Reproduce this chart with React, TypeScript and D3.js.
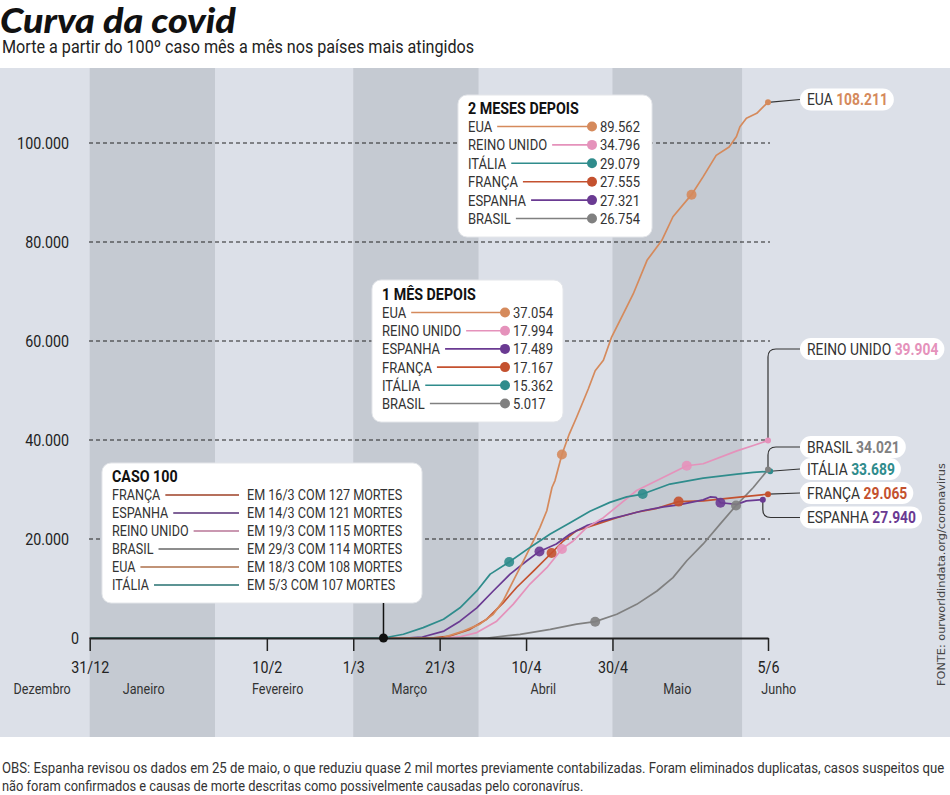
import { useEffect, useRef } from "react";
import * as d3 from "d3";

// days counted from 31/12/2019
const tickDays = [0, 41, 61, 81, 101, 121, 157];
const tickLabels = ["31/12", "10/2", "1/3", "21/3", "10/4", "30/4", "5/6"];
const yTicks = [0, 20000, 40000, 60000, 80000, 100000];

const monthNames = ["Dezembro", "Janeiro", "Fevereiro", "Março", "Abril", "Maio", "Junho"];
const monthLabelDays = [-11, 12.5, 43.5, 74, 105, 136, 159.5];
const shadedMonths: [number, number][] = [[0, 29], [61, 90], [121, 151]];

const countries = ["EUA", "REINO UNIDO", "ITÁLIA", "FRANÇA", "ESPANHA", "BRASIL"];
const countryColors = ["#d58a5c", "#e592bb", "#2f8c8c", "#c4512f", "#6a3a92", "#808080"];

// [day, deaths]
const eua: [number, number][] = [
  [0, 0], [78, 0], [81.8, 100], [86.5, 1400], [90.3, 2800], [93.4, 4800], [95.7, 7500],
  [98, 11500], [100.4, 15600], [102.7, 19600], [104.2, 22300], [105.8, 25700], [107, 30400],
  [107.7, 31800], [109.3, 37054], [111, 41200], [112.7, 44600], [115.4, 50300], [117, 54000],
  [118.9, 56100], [120.8, 60800], [123.5, 65500], [125.8, 69500], [129, 76300], [132.4, 80300],
  [135, 85100], [139.3, 89562], [142, 93200], [145, 97500], [148, 99200], [149.7, 101300],
  [150.5, 103300], [152, 105000], [154.4, 106000], [156, 107400], [157, 108211],
];
const reinoUnido: [number, number][] = [
  [0, 0], [82, 0], [86, 300], [89.6, 1100], [94.2, 3400], [98, 6800], [101.9, 10900],
  [105.8, 14200], [109.3, 17994], [111.9, 19600], [115, 22300], [118.9, 24300], [122.8, 27100],
  [126.6, 29800], [131.3, 31800], [138.2, 34796], [142, 35200], [149.8, 37800], [153.6, 38900],
  [157, 39904],
];
const italia: [number, number][] = [
  [0, 0], [68, 0], [72.6, 750], [77.2, 2100], [81.9, 3800], [85.7, 6100], [89.6, 9500],
  [92.7, 12900], [97.1, 15362], [101.9, 18300], [106.6, 21000], [111.2, 23300], [115.8, 25600],
  [120.4, 27400], [124.3, 28500], [128, 29079], [134.3, 31100], [142, 32300], [149.8, 33100],
  [153.6, 33450], [157.5, 33689],
];
const franca: [number, number][] = [
  [0, 0], [79, 0], [83.4, 400], [88, 1750], [91.9, 3800], [95.7, 7100], [98.8, 10200],
  [102.7, 13500], [106.9, 17167], [109.6, 19600], [112.7, 21700], [117.4, 23000], [122, 24300],
  [126.6, 25400], [131.3, 26200], [136.3, 27555], [142, 27700], [149.8, 28400], [157, 29065],
];
const espanha: [number, number][] = [
  [0, 0], [73, 0], [77, 200], [82, 1400], [85.7, 3400], [89.6, 6100], [93.4, 9500],
  [97.3, 12900], [101.2, 15600], [104.1, 17489], [108, 19000], [111.2, 21000], [115, 22700],
  [118.9, 23700], [123.5, 24700], [128, 25700], [132.8, 26500], [136.3, 26900], [142, 27900],
  [143.6, 28500], [145, 28400], [146, 27321], [149.8, 27000], [152, 27700], [155.8, 27940],
];
const brasil: [number, number][] = [
  [0, 0], [92, 0], [99.6, 750], [106.6, 1750], [112.7, 2800], [117, 3300], [122, 4800],
  [126.6, 6800], [131.3, 9500], [135, 12200], [138.2, 15600], [142, 19000], [145.9, 23000],
  [149.6, 26754], [153.6, 30400], [157, 34021],
];
const seriesByCountry = [eua, reinoUnido, italia, franca, espanha, brasil];

const oneMonthDays = [109.3, 109.3, 97.1, 106.9, 104.1, 117];
const twoMonthDays = [139.3, 138.2, 128, 136.3, 146, 149.6];

const oneMonthOrder = ["EUA", "REINO UNIDO", "ESPANHA", "FRANÇA", "ITÁLIA", "BRASIL"];
const oneMonthValues = [37054, 17994, 17489, 17167, 15362, 5017];
const twoMonthOrder = ["EUA", "REINO UNIDO", "ITÁLIA", "FRANÇA", "ESPANHA", "BRASIL"];
const twoMonthValues = [89562, 34796, 29079, 27555, 27321, 26754];
const case100Order = ["FRANÇA", "ESPANHA", "REINO UNIDO", "BRASIL", "EUA", "ITÁLIA"];
const case100Text = [
  "EM 16/3 COM 127 MORTES", "EM 14/3 COM 121 MORTES", "EM 19/3 COM 115 MORTES",
  "EM 29/3 COM 114 MORTES", "EM 18/3 COM 108 MORTES", "EM 5/3 COM 107 MORTES",
];
const case100Day = 68;
const finalValues = [108211, 39904, 33689, 29065, 27940, 34021];

const title = "Curva da covid";
const subtitle = "Morte a partir do 100º caso mês a mês nos países mais atingidos";
const source = "FONTE: ourworldindata.org/coronavirus";
const note1 = "OBS: Espanha revisou os dados em 25 de maio, o que reduziu quase 2 mil mortes previamente contabilizadas. Foram eliminados duplicatas, casos suspeitos que";
const note2 = "não foram confirmados e causas de morte descritas como possivelmente causadas pelo coronavírus.";

const FONT = "Roboto, 'DejaVu Sans', sans-serif";
const SX = 0.84; // horizontal squeeze to imitate the condensed face
const fmt = d3.formatLocale({ decimal: ",", thousands: ".", grouping: [3], currency: ["R$", ""] }).format(",d");

type Sel = d3.Selection<any, unknown, null, undefined>;

// condensed text: x/y is the anchor point, vertically centred
function ctext(parent: Sel, x: number, y: number, str: string, size: number, fill = "#333", weight: any = "normal", anchor = "start") {
  return parent.append("text")
    .attr("transform", `translate(${x},${y}) scale(${SX},1)`)
    .attr("dy", "0.35em").attr("text-anchor", anchor)
    .attr("font-family", FONT).attr("font-size", size).attr("font-weight", weight)
    .attr("fill", fill).text(str);
}
const rawWidth = (t: Sel) => (t.node() as SVGTextElement).getComputedTextLength();
const widthOf = (t: Sel) => rawWidth(t) * SX;
// squeeze/stretch a left-anchored text to a given width
function fitText(parent: Sel, x: number, y: number, str: string, size: number, target: number, fill = "#333") {
  const t = ctext(parent, x, y, str, size, fill);
  t.attr("transform", `translate(${x},${y}) scale(${target / rawWidth(t)},1)`);
  return t;
}

export default function App() {
  const svgRef = useRef<SVGSVGElement>(null);

  useEffect(() => {
    if (!svgRef.current) return;
    document.body.style.margin = "0";
    const svg = d3.select(svgRef.current) as unknown as Sel;
    svg.selectAll("*").remove();

    const x = d3.scaleLinear().domain([0, 157]).range([89.7, 768]);
    const y = d3.scaleLinear().domain([0, 100000]).range([638, 143]);
    const colorOf = (c: string) => countryColors[countries.indexOf(c)];
    const valueAt = (s: [number, number][], day: number) => {
      const i = d3.bisector((d: [number, number]) => d[0]).left(s, day);
      if (i <= 0) return s[0][1];
      if (i >= s.length) return s[s.length - 1][1];
      const [d0, v0] = s[i - 1];
      const [d1, v1] = s[i];
      return v0 + ((v1 - v0) * (day - d0)) / (d1 - d0);
    };

    // Title
    const tt = svg.append("text").attr("x", 0).attr("y", 0)
      .attr("font-family", "Lato, 'DejaVu Sans', sans-serif").attr("font-weight", 900)
      .attr("font-style", "italic").attr("font-size", 35).attr("fill", "#111").text(title);
    const tw = rawWidth(tt);
    tt.attr("transform", `translate(0,33) scale(${236 / tw},1)`);
    fitText(svg, 2, 47, subtitle, 18, 472, "#222");

    // Background and month bands
    svg.append("rect").attr("x", 0).attr("y", 68).attr("width", 950).attr("height", 669).attr("fill", "#dce0e8");
    svg.append("g").selectAll("rect").data(shadedMonths).join("rect")
      .attr("x", (d) => x(d[0])).attr("width", (d) => x(d[1]) - x(d[0]))
      .attr("y", 68).attr("height", 669).attr("fill", "#c5cad2");

    monthNames.forEach((m, i) => ctext(svg, x(monthLabelDays[i]), 689, m, 15, "#333", "normal", "middle"));

    // Grid
    svg.append("g").selectAll("line").data(yTicks.filter((t) => t > 0)).join("line")
      .attr("x1", 89).attr("x2", 770).attr("y1", (d) => y(d)).attr("y2", (d) => y(d))
      .attr("stroke", "#222").attr("stroke-width", 1).attr("stroke-dasharray", "4,3");
    yTicks.forEach((t) => ctext(svg, t === 0 ? 79 : 69, y(t), fmt(t), 17, "#222", "normal", "end"));

    // Series
    const line = d3.line<[number, number]>().x((d) => x(d[0])).y((d) => y(d[1]));
    const drawOrder = [5, 3, 4, 1, 0, 2];
    drawOrder.forEach((i) => {
      svg.append("path").datum(seriesByCountry[i]).attr("d", line)
        .attr("fill", "none").attr("stroke", countryColors[i]).attr("stroke-width", 1.7)
        .attr("stroke-linejoin", "round");
    });

    // X axis
    const xAxis = svg.append("g").attr("transform", `translate(0,${y(0)})`)
      .call(d3.axisBottom(x).tickValues(tickDays).tickFormat((_, i) => tickLabels[i]).tickSize(13).tickSizeOuter(0));
    xAxis.select(".domain").attr("stroke", "#222").attr("stroke-width", 2);
    xAxis.selectAll(".tick line").attr("stroke", "#222").attr("stroke-width", 1.5);
    xAxis.selectAll(".tick text").attr("y", 0).attr("transform", `translate(0,29) scale(${SX},1)`)
      .attr("dy", "0.35em").attr("font-family", FONT).attr("font-size", 17).attr("fill", "#222");

    // Milestone dots
    [oneMonthDays, twoMonthDays].forEach((days) => {
      svg.append("g").selectAll("circle").data(days).join("circle")
        .attr("cx", (d) => x(d)).attr("cy", (d, i) => y(valueAt(seriesByCountry[i], d)))
        .attr("r", 5).attr("fill", (_, i) => countryColors[i]).attr("fill-opacity", 0.9);
    });

    // End points + labels
    const labelY = [99.5, 349, 469, 493, 517.5, 447];
    const r = 8;
    seriesByCountry.forEach((s, i) => {
      const last = s[s.length - 1];
      const ex = x(last[0]);
      const ey = y(last[1]);
      const ly = labelY[i];
      let d: string;
      if (Math.abs(ey - ly) < 6) {
        d = `M${ex},${ey}L800,${ly}`;
      } else {
        const dir = ly < ey ? -1 : 1;
        d = `M${ex},${ey}V${ly - dir * r}Q${ex},${ly} ${ex + r},${ly}H800`;
      }
      svg.append("path").attr("d", d).attr("fill", "none").attr("stroke", "#333").attr("stroke-width", 1.2);
      svg.append("circle").attr("cx", ex).attr("cy", ey).attr("r", 3).attr("fill", countryColors[i]);

      const g = svg.append("g");
      const pill = g.append("rect").attr("x", 800).attr("y", ly - 11).attr("height", 22).attr("rx", 11)
        .attr("fill", "#fff");
      const t = ctext(g, 807, ly, "", 16.5);
      t.append("tspan").attr("fill", "#333").text(countries[i] + " ");
      t.append("tspan").attr("fill", countryColors[i]).attr("font-weight", "bold").text(fmt(finalValues[i]));
      pill.attr("width", Math.min(widthOf(t) + 13, 148));
    });

    // Boxes
    const box = (bx: number, by: number, bw: number, bh: number) =>
      svg.append("rect").attr("x", bx).attr("y", by).attr("width", bw).attr("height", bh)
        .attr("rx", 9).attr("fill", "#fff").attr("stroke", "#e4e6ea");

    const listBox = (bx: number, by: number, bw: number, bh: number, head: string, order: string[],
      values: number[], rowY0: number, step: number, dotX: number) => {
      box(bx, by, bw, bh);
      ctext(svg, bx + 10, rowY0 - step, head, 17, "#111", "bold");
      order.forEach((c, i) => {
        const cy = rowY0 + i * step;
        const t = ctext(svg, bx + 10, cy, c, 15.5);
        svg.append("line").attr("x1", bx + 10 + widthOf(t) + 5).attr("x2", dotX).attr("y1", cy).attr("y2", cy)
          .attr("stroke", colorOf(c)).attr("stroke-width", 1.6);
        svg.append("circle").attr("cx", dotX).attr("cy", cy).attr("r", 5).attr("fill", colorOf(c));
        ctext(svg, dotX + 8, cy, fmt(values[i]), 15.5);
      });
    };

    listBox(458, 95, 194, 142, "2 MESES DEPOIS", twoMonthOrder, twoMonthValues, 126.5, 18.4, 592);
    listBox(372, 280, 191, 142, "1 MÊS DEPOIS", oneMonthOrder, oneMonthValues, 312.5, 18.2, 505);

    // Case 100 box
    box(102, 463, 320, 140);
    ctext(svg, 112, 476, "CASO 100", 17, "#111", "bold");
    case100Order.forEach((c, i) => {
      const cy = 495 + i * 18;
      const t = ctext(svg, 112, cy, c, 15);
      svg.append("line").attr("x1", 112 + widthOf(t) + 5).attr("x2", 239).attr("y1", cy).attr("y2", cy)
        .attr("stroke", d3.color(colorOf(c))!.darker(0.6).formatHex()).attr("stroke-width", 1.4);
      ctext(svg, 247, cy, case100Text[i], 15);
    });
    svg.append("line").attr("x1", x(case100Day)).attr("x2", x(case100Day)).attr("y1", 603).attr("y2", y(0))
      .attr("stroke", "#111").attr("stroke-width", 1.5);
    svg.append("circle").attr("cx", x(case100Day)).attr("cy", y(0)).attr("r", 4.5).attr("fill", "#111");

    // Source
    svg.append("text").attr("transform", "translate(945,686) rotate(-90)")
      .attr("font-family", "'DejaVu Sans', sans-serif").attr("font-size", 11.3).attr("fill", "#444")
      .text(source);

    // Note
    fitText(svg, 2, 768, note1, 15.5, 942);
    fitText(svg, 2, 786, note2, 15.5, 581);
  }, []);

  return (
    <div style={{ position: "absolute", left: 0, top: 0, width: 950, height: 795, background: "#fff" }}>
      <svg ref={svgRef} width={950} height={795} style={{ display: "block" }} />
    </div>
  );
}
